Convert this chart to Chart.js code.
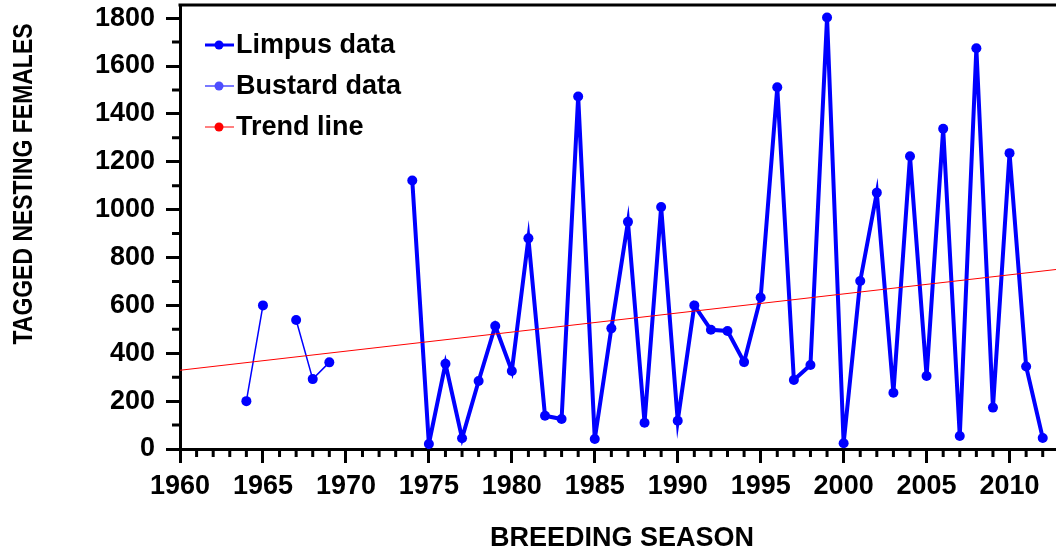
<!DOCTYPE html>
<html>
<head>
<meta charset="utf-8">
<script src="https://cdn.jsdelivr.net/npm/chart.js@4"></script>
<style>
  body { margin: 0; background: #fff; }
</style>
</head>
<body>
<canvas id="turtleChart" width="1056" height="556"></canvas>
<script>
// Data
const limpusYears = [1974, 1975, 1976, 1977, 1978, 1979, 1980, 1981, 1982, 1983,
                     1984, 1985, 1986, 1987, 1988, 1989, 1990, 1991, 1992, 1993,
                     1994, 1995, 1996, 1997, 1998, 1999, 2000, 2001, 2002, 2003,
                     2004, 2005, 2006, 2007, 2008, 2009, 2010, 2011, 2012];
const limpusCounts = [1122, 21, 356, 45, 284, 514, 326, 880, 139, 125,
                      1473, 42, 504, 949, 110, 1011, 118, 600, 498, 493,
                      363, 633, 1511, 288, 351, 1803, 24, 702, 1071, 235,
                      1223, 305, 1338, 54, 1674, 173, 1236, 345, 46];

const bustardYears = [1964, 1965, 1966, 1967, 1968, 1969];
const bustardCounts = [200, 600, null, 539, 292, 362];

const trendYears = [1960, 2012.8];
const trendCounts = [329, 750];

const xMajorTicks = [1960, 1965, 1970, 1975, 1980, 1985, 1990, 1995, 2000, 2005, 2010];
const yMajorTicks = [0, 200, 400, 600, 800, 1000, 1200, 1400, 1600, 1800];

const legendItems = [
    { text: 'Limpus data', color: '#0000ff', width: 3 },
    { text: 'Bustard data', color: '#4d4dff', width: 1.5 },
    { text: 'Trend line', color: '#ff0000', width: 1 }
];

const FONT = "'Liberation Sans', Arial, sans-serif";

function toPoints(xs, ys) {
    return xs.map((x, i) => ({ x: x, y: ys[i] }));
}

// Minor ticks, top frame, titles and legend
const decorPlugin = {
    id: 'decor',
    afterDraw(chart) {
        const ctx = chart.ctx;
        const area = chart.chartArea;
        const xs = chart.scales.x;
        const ys = chart.scales.y;
        ctx.save();
        ctx.strokeStyle = '#000';
        ctx.lineWidth = 3;

        // top frame line
        ctx.beginPath();
        ctx.moveTo(area.left - 1.5, area.top);
        ctx.lineTo(chart.width, area.top);
        ctx.stroke();

        // minor ticks
        ctx.beginPath();
        for (let yr = 1961; yr <= 2012; yr++) {
            if (yr % 5 === 0) continue;
            const px = xs.getPixelForValue(yr);
            ctx.moveTo(px, area.bottom);
            ctx.lineTo(px, area.bottom + 8);
        }
        for (let v = 100; v < 1800; v += 200) {
            const py = ys.getPixelForValue(v);
            ctx.moveTo(area.left, py);
            ctx.lineTo(area.left - 8, py);
        }
        ctx.stroke();

        // axis titles
        ctx.fillStyle = '#000';
        ctx.textAlign = 'center';
        ctx.textBaseline = 'middle';
        ctx.font = "bold 27px " + FONT;
        ctx.fillText('BREEDING SEASON', 622, 539);

        ctx.save();
        ctx.translate(24, 184);
        ctx.rotate(-Math.PI / 2);
        ctx.scale(0.82, 1);
        ctx.font = "bold 28px " + FONT;
        ctx.fillText('TAGGED NESTING FEMALES', 0, 0);
        ctx.restore();

        // legend
        ctx.textAlign = 'left';
        ctx.font = "bold 27px " + FONT;
        legendItems.forEach((item, i) => {
            const y = 45 + i * 41;
            ctx.strokeStyle = item.color;
            ctx.lineWidth = item.width;
            ctx.beginPath();
            ctx.moveTo(205, y);
            ctx.lineTo(234, y);
            ctx.stroke();
            ctx.fillStyle = item.color;
            ctx.beginPath();
            ctx.arc(219, y, 4.5, 0, Math.PI * 2);
            ctx.fill();
            ctx.fillStyle = '#000';
            ctx.fillText(item.text, 236, y + 1);
        });
        ctx.restore();
    }
};

new Chart(document.getElementById('turtleChart'), {
    type: 'line',
    data: {
        datasets: [
            {
                label: 'Trend line',
                data: toPoints(trendYears, trendCounts),
                borderColor: '#ff0000',
                borderWidth: 1,
                pointRadius: 0
            },
            {
                label: 'Bustard data',
                data: toPoints(bustardYears, bustardCounts),
                borderColor: '#0000ff',
                backgroundColor: '#0000ff',
                borderWidth: 1.5,
                pointRadius: 5,
                pointBorderWidth: 0,
                spanGaps: false
            },
            {
                label: 'Limpus data',
                data: toPoints(limpusYears, limpusCounts),
                borderColor: '#0000ff',
                backgroundColor: '#0000ff',
                borderWidth: 4,
                pointRadius: 5,
                pointBorderWidth: 0
            }
        ]
    },
    options: {
        responsive: false,
        animation: false,
        devicePixelRatio: 1,
        layout: { autoPadding: false, padding: { top: 5, right: 0, left: 0, bottom: 0 } },
        plugins: {
            legend: { display: false },
            tooltip: { enabled: false }
        },
        scales: {
            x: {
                type: 'linear',
                min: 1960,
                max: 2012.8,
                afterBuildTicks: scale => {
                    scale.ticks = xMajorTicks.map(v => ({ value: v }));
                },
                afterFit: scale => {
                    scale.height = 107;
                    scale.paddingLeft = 0;
                    scale.paddingRight = 0;
                },
                ticks: {
                    autoSkip: false,
                    maxRotation: 0,
                    padding: 7,
                    color: '#000',
                    font: { family: FONT, size: 27, weight: 'bold' },
                    callback: v => String(v)
                },
                grid: {
                    drawOnChartArea: false,
                    tickLength: 14,
                    lineWidth: 3,
                    color: '#000'
                },
                border: { display: true, color: '#000', width: 3 }
            },
            y: {
                min: 0,
                max: 1855,
                afterBuildTicks: scale => {
                    scale.ticks = yMajorTicks.map(v => ({ value: v }));
                },
                afterFit: scale => {
                    scale.width = 180;
                    scale.paddingTop = 0;
                    scale.paddingBottom = 0;
                },
                ticks: {
                    padding: 11,
                    color: '#000',
                    font: { family: FONT, size: 27, weight: 'bold' },
                    callback: v => String(v)
                },
                grid: {
                    drawOnChartArea: false,
                    tickLength: 14,
                    lineWidth: 3,
                    color: '#000'
                },
                border: { display: true, color: '#000', width: 3 }
            }
        }
    },
    plugins: [decorPlugin]
});
</script>
</body>
</html>
